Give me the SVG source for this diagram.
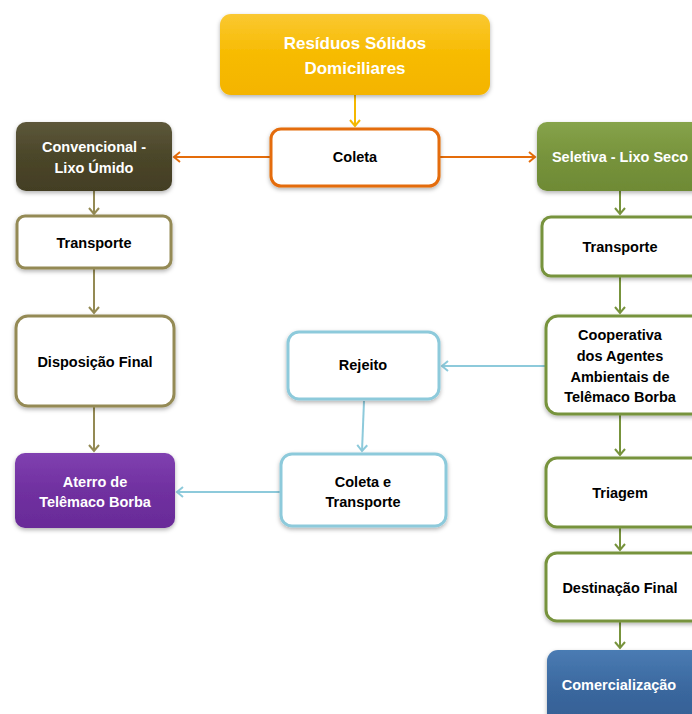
<svg xmlns="http://www.w3.org/2000/svg" width="692" height="714" viewBox="0 0 692 714">
<defs>
<filter id="sh" x="-20%" y="-20%" width="140%" height="150%">
<feDropShadow dx="0" dy="2" stdDeviation="2" flood-color="#000" flood-opacity="0.3"/>
</filter>
<linearGradient id="gY" x1="0" y1="0" x2="0" y2="1"><stop offset="0" stop-color="#FAC832"/><stop offset="0.5" stop-color="#F7BB00"/><stop offset="1" stop-color="#F4B400"/></linearGradient>
<linearGradient id="gO" x1="0" y1="0" x2="0" y2="1"><stop offset="0" stop-color="#5C573A"/><stop offset="0.5" stop-color="#4B4629"/><stop offset="1" stop-color="#433E24"/></linearGradient>
<linearGradient id="gG" x1="0" y1="0" x2="0" y2="1"><stop offset="0" stop-color="#86A34A"/><stop offset="0.5" stop-color="#77933C"/><stop offset="1" stop-color="#6E8A35"/></linearGradient>
<linearGradient id="gP" x1="0" y1="0" x2="0" y2="1"><stop offset="0" stop-color="#8040B0"/><stop offset="0.5" stop-color="#7030A0"/><stop offset="1" stop-color="#692B98"/></linearGradient>
<linearGradient id="gB" x1="0" y1="0" x2="0" y2="1"><stop offset="0" stop-color="#4A7BB3"/><stop offset="0.5" stop-color="#3A679E"/><stop offset="1" stop-color="#345E92"/></linearGradient>
<marker id="aY" markerWidth="12" markerHeight="12" refX="9" refY="6" orient="auto" markerUnits="userSpaceOnUse"><path d="M3,1 L9,6 L3,11" fill="none" stroke="#F5B800" stroke-width="2"/></marker>
<marker id="aOr" markerWidth="12" markerHeight="12" refX="9" refY="6" orient="auto" markerUnits="userSpaceOnUse"><path d="M3,1 L9,6 L3,11" fill="none" stroke="#E46C0A" stroke-width="2"/></marker>
<marker id="aOl" markerWidth="12" markerHeight="12" refX="9" refY="6" orient="auto" markerUnits="userSpaceOnUse"><path d="M3,1 L9,6 L3,11" fill="none" stroke="#948A54" stroke-width="2"/></marker>
<marker id="aG" markerWidth="12" markerHeight="12" refX="9" refY="6" orient="auto" markerUnits="userSpaceOnUse"><path d="M3,1 L9,6 L3,11" fill="none" stroke="#77933C" stroke-width="2"/></marker>
<marker id="aL" markerWidth="12" markerHeight="12" refX="9" refY="6" orient="auto" markerUnits="userSpaceOnUse"><path d="M3,1 L9,6 L3,11" fill="none" stroke="#8DCADB" stroke-width="2"/></marker>
</defs>
<style>
text{font-family:"Liberation Sans",Arial,sans-serif;font-weight:bold;font-size:14.5px;text-anchor:middle}
.w{fill:#fff}
.k{fill:#000}
.big{font-size:17px}
.box{fill:#fff;stroke-width:3}
.or{stroke:#E46C0A}
.ol{stroke:#948A54}
.gr{stroke:#77933C}
.lb{stroke:#8DCADB}
.c{fill:none;stroke-width:2}
</style>

<g id="connectors">
<line class="c" x1="355" y1="95" x2="355" y2="126" stroke="#F5B800" marker-end="url(#aY)"/>
<line class="c" x1="270" y1="157" x2="174" y2="157" stroke="#E46C0A" marker-end="url(#aOr)"/>
<line class="c" x1="440" y1="157" x2="535" y2="157" stroke="#E46C0A" marker-end="url(#aOr)"/>
<line class="c" x1="94" y1="191" x2="94" y2="214" stroke="#948A54" marker-end="url(#aOl)"/>
<line class="c" x1="94" y1="269" x2="94" y2="313" stroke="#948A54" marker-end="url(#aOl)"/>
<line class="c" x1="94" y1="407" x2="94" y2="451" stroke="#948A54" marker-end="url(#aOl)"/>
<line class="c" x1="620" y1="191" x2="620" y2="214" stroke="#77933C" marker-end="url(#aG)"/>
<line class="c" x1="620" y1="277" x2="620" y2="313" stroke="#77933C" marker-end="url(#aG)"/>
<line class="c" x1="620" y1="415" x2="620" y2="455" stroke="#77933C" marker-end="url(#aG)"/>
<line class="c" x1="620" y1="528" x2="620" y2="550" stroke="#77933C" marker-end="url(#aG)"/>
<line class="c" x1="620" y1="622" x2="620" y2="648" stroke="#77933C" marker-end="url(#aG)"/>
<line class="c" x1="545" y1="366" x2="442" y2="366" stroke="#8DCADB" marker-end="url(#aL)"/>
<line class="c" x1="364" y1="401" x2="362" y2="451" stroke="#8DCADB" marker-end="url(#aL)"/>
<line class="c" x1="280" y1="492" x2="177" y2="492" stroke="#8DCADB" marker-end="url(#aL)"/>
</g>

<g id="residuos">
<rect x="220" y="14" width="270" height="81" rx="11" fill="url(#gY)" filter="url(#sh)"/>
<text class="w big" x="355" y="49">Resíduos Sólidos</text>
<text class="w big" x="355" y="74">Domiciliares</text>
</g>
<g id="coleta">
<rect class="box or" x="271" y="129" width="168" height="57" rx="10" filter="url(#sh)"/>
<text class="k" x="355" y="162">Coleta</text>
</g>
<g id="convencional">
<rect x="16" y="122" width="156" height="69" rx="10" fill="url(#gO)" filter="url(#sh)"/>
<text class="w" x="94" y="152">Convencional -</text>
<text class="w" x="94" y="173">Lixo Úmido</text>
</g>
<g id="transporte-esq">
<rect class="box ol" x="17" y="216" width="154" height="52" rx="8" filter="url(#sh)"/>
<text class="k" x="94" y="248">Transporte</text>
</g>
<g id="disposicao">
<rect class="box ol" x="16" y="316" width="158" height="90" rx="12" filter="url(#sh)"/>
<text class="k" x="95" y="367">Disposição Final</text>
</g>
<g id="aterro">
<rect x="15" y="453" width="160" height="75" rx="10" fill="url(#gP)" filter="url(#sh)"/>
<text class="w" x="95" y="487">Aterro de</text>
<text class="w" x="95" y="507">Telêmaco Borba</text>
</g>
<g id="seletiva">
<rect x="537" y="122" width="170" height="69" rx="10" fill="url(#gG)" filter="url(#sh)"/>
<text class="w" x="620" y="162">Seletiva - Lixo Seco</text>
</g>
<g id="transporte-dir">
<rect class="box gr" x="542" y="217" width="160" height="59" rx="9" filter="url(#sh)"/>
<text class="k" x="620" y="252">Transporte</text>
</g>
<g id="cooperativa">
<rect class="box gr" x="546" y="316" width="160" height="98" rx="12" filter="url(#sh)"/>
<text class="k" x="620" y="340">Cooperativa</text>
<text class="k" x="620" y="361">dos Agentes</text>
<text class="k" x="620" y="382">Ambientais de</text>
<text class="k" x="620" y="402">Telêmaco Borba</text>
</g>
<g id="triagem">
<rect class="box gr" x="546" y="458" width="160" height="69" rx="11" filter="url(#sh)"/>
<text class="k" x="620" y="498">Triagem</text>
</g>
<g id="destinacao">
<rect class="box gr" x="546" y="553" width="160" height="68" rx="11" filter="url(#sh)"/>
<text class="k" x="620" y="593">Destinação Final</text>
</g>
<g id="comercializacao">
<rect x="547" y="650" width="160" height="80" rx="11" fill="url(#gB)" filter="url(#sh)"/>
<text class="w" x="619" y="690">Comercialização</text>
</g>
<g id="rejeito">
<rect class="box lb" x="288" y="332" width="151" height="67" rx="11" filter="url(#sh)"/>
<text class="k" x="363" y="370">Rejeito</text>
</g>
<g id="coleta-transporte">
<rect class="box lb" x="281" y="454" width="165" height="72" rx="11" filter="url(#sh)"/>
<text class="k" x="363" y="487">Coleta e</text>
<text class="k" x="363" y="507">Transporte</text>
</g>
</svg>
